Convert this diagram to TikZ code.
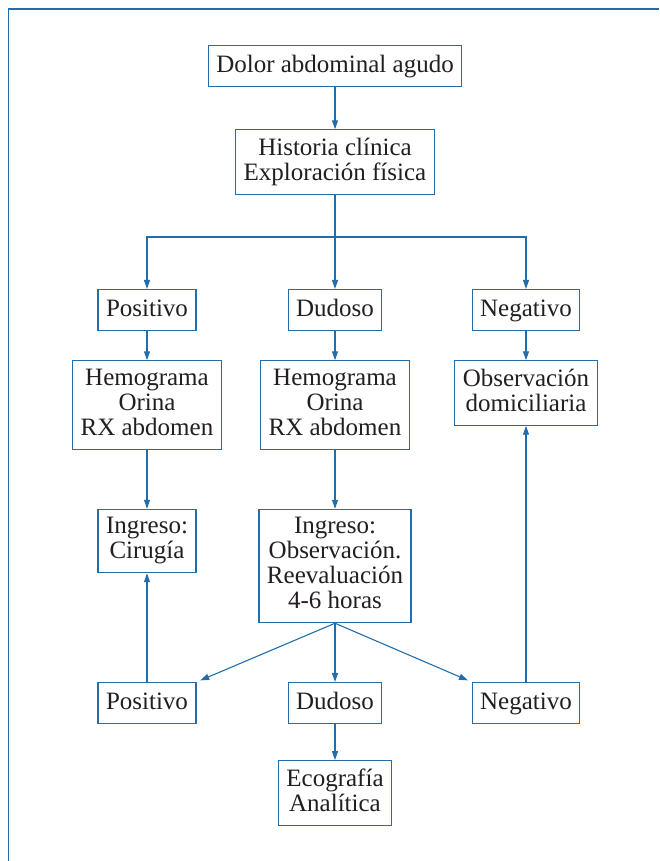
\documentclass[tikz,border=0pt]{standalone}
\usepackage{fontspec}
\setmainfont{Liberation Serif}
\usepackage{tikz}
\usetikzlibrary{arrows.meta}
\definecolor{flowblue}{RGB}{35,110,170}
\definecolor{flowtext}{RGB}{35,31,32}
\newcommand\colspacing{188pt}
\newcommand\splitheight{52pt}
\newcommand\topstrut{\rule{0pt}{19pt}}
\newcommand\botstrut{\rule[-6pt]{0pt}{6pt}}
\tikzstyle{box} = [rectangle, align=center, inner xsep=8pt, inner ysep=8pt, draw=flowblue, line width=1.1pt, text=flowtext, font=\fontsize{25}{25}\selectfont, execute at begin node=\topstrut, execute at end node=\botstrut, fill=white]
\tikzstyle{line} = [draw=flowblue, line width=1.1pt]
\tikzstyle{arrow} = [line, -{Triangle[length=9pt,width=6pt]}]
\tikzstyle{frame} = [draw=flowblue, line width=1.4pt]

\begin{document}
\begin{tikzpicture}[x=1pt, y=1pt, node distance=96pt]

            \useasboundingbox (0,0) rectangle (659,-861);
            \draw [frame] (8.5,-861) -- (8.5,-9) -- (659,-9);

            \node (dolor) [box] at (335,-66) {Dolor abdominal agudo};
            \node (historia) [box, below of=dolor]{Historia clínica\\Exploración física};
            \node (dudoso1) [box, below of=historia, node distance=148pt]{Dudoso};
            \node (positivo1) [box, left of=dudoso1, node distance=\colspacing]{Positivo};
            \node (negativo1) [box, right of=dudoso1, node distance=\colspacing+3pt]{Negativo};
            \node (hemo1) [box, below of=positivo1, node distance=95pt]{Hemograma\\Orina\\RX abdomen};
            \node (hemo2) [box, below of=dudoso1, node distance=95pt]{Hemograma\\Orina\\RX abdomen};
            \node (domicilio) [box, below of=negativo1, node distance=83pt]{Observación\\domiciliaria};
            \node (cirugia) [box, below of=hemo1, node distance=136pt]{Ingreso:\\Cirugía};
            \node (ingreso) [box, below of=hemo2, node distance=161pt]{Ingreso:\\Observación.\\Reevaluación\\4-6 horas};
            \node (dudoso2) [box, below of=ingreso, node distance=137pt]{Dudoso};
            \node (positivo2) [box, left of=dudoso2, node distance=\colspacing]{Positivo};
            \node (negativo2) [box, right of=dudoso2, node distance=\colspacing+3pt]{Negativo};
            \node (eco) [box, below of=dudoso2, node distance=90pt]{Ecografía\\Analítica};


            \draw [arrow] (dolor) -- (historia);
            \draw [arrow] (historia) -- ([yshift=\splitheight]dudoso1.north) -- (dudoso1);
            \draw [arrow] ([yshift=\splitheight]dudoso1.north) -| (positivo1);
            \draw [arrow] ([yshift=\splitheight]dudoso1.north) -| (negativo1);
            \draw [arrow] (positivo1) -- (hemo1);
            \draw [arrow] (dudoso1) -- (hemo2);
            \draw [arrow] (negativo1) -- (domicilio);
            \draw [arrow] (hemo1) -- (cirugia);
            \draw [arrow] (hemo2) -- (ingreso);
            \draw [arrow, shorten >=4pt] (ingreso.south) -- (positivo2.north east);
            \draw [arrow] (ingreso) -- (dudoso2);
            \draw [arrow, shorten >=4pt] (ingreso.south) -- (negativo2.north west);
            \draw [arrow] (positivo2) -- (cirugia);
            \draw [arrow] (negativo2) -- (domicilio);
            \draw [arrow] (dudoso2) -- (eco);

        \end{tikzpicture}
\end{document}
